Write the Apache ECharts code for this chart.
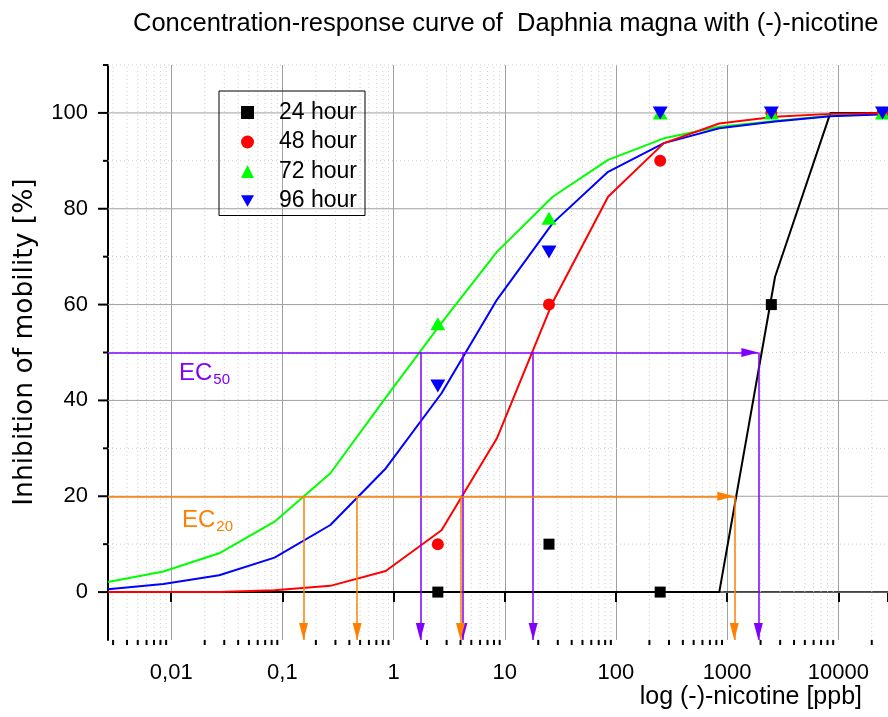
<!DOCTYPE html>
<html>
<head>
<meta charset="utf-8">
<title>Concentration-response curve of Daphnia magna with (-)-nicotine</title>
<script src="https://cdn.jsdelivr.net/npm/echarts@6/dist/echarts.min.js"></script>
<style>
html, body { margin: 0; padding: 0; background: #fff; }
#main { width: 888px; height: 717px; }
</style>
</head>
<body>
<div id="main"></div>
<script>
// fitted curves, sampled every half decade (ppb -> inhibition %)
var fitX  = [0.0027, 0.0085, 0.027, 0.085, 0.27, 0.85, 2.7, 8.5, 27, 85, 270, 850, 2700, 8500, 27000];
var fit24 = [0, 0, 0, 0, 0, 0, 0, 0, 0, 0, 0, 0, 65.8, 100, 100];
var fit48 = [0, 0, 0, 0.4, 1.3, 4.4, 12.9, 32.1, 60.5, 82.5, 93.7, 97.8, 99.2, 99.8, 100];
var fit72 = [2.1, 4.3, 8.1, 14.7, 24.8, 40.6, 56.2, 71.0, 82.5, 90.2, 94.7, 97.1, 98.3, 99.4, 99.8];
var fit96 = [0.6, 1.7, 3.5, 7.2, 14.0, 25.8, 41.5, 61.0, 77.0, 87.7, 93.7, 96.8, 98.2, 99.3, 99.7];

// measured points
var conc  = [2.5, 25, 250, 2500, 25000];
var obs24 = [0, 10, 0, 60, 100];
var obs48 = [10, 60, 90, 100, 100];
var obs72 = [56, 78, 100, 100, 100];
var obs96 = [43, 71, 100, 100, 100];

// EC values (72h, 96h, 48h, 24h)
var ec50 = [1.74, 4.2, 18, 1910];
var ec20 = [0.155, 0.47, 4.0, 1160];

// axes
var X_MIN = 0.0027, X_MAX = 28000, Y_MIN = -10, Y_MAX = 110;
var yMajor = [0, 20, 40, 60, 80, 100];
var yMinor = [10, 30, 50, 70, 90, 110];
var decades = [0.001, 0.01, 0.1, 1, 10, 100, 1000, 10000];
var mantissa = [2, 3, 4, 5, 6, 7, 8, 9];

var xMinor = [];
decades.forEach(function (d) {
    mantissa.forEach(function (m) {
        var v = +(d * m).toPrecision(3);
        if (v > X_MIN && v < X_MAX) xMinor.push(v);
    });
});

var FONT = 'Liberation Sans, Arial, sans-serif';
var PURPLE = '#8000ff', ORANGE = '#ff8000';

function pairs(xs, ys) {
    return xs.map(function (x, i) { return [x, ys[i]]; });
}

// horizontal grid line + tick on the y axis
function hLine(color, dash, tick) {
    return function (params, api) {
        var a = api.coord([X_MIN, api.value(1)]);
        var b = api.coord([X_MAX, api.value(1)]);
        return {
            type: 'group',
            children: [
                { type: 'line', shape: { x1: a[0], y1: a[1], x2: b[0], y2: b[1] },
                  style: { stroke: color, lineWidth: 1, lineDash: dash } },
                { type: 'line', shape: { x1: a[0] - tick, y1: a[1], x2: a[0], y2: a[1] },
                  style: { stroke: '#000', lineWidth: 2 } }
            ]
        };
    };
}

// dotted minor vertical grid line + short tick on the x axis
function vMinor(params, api) {
    var a = api.coord([api.value(0), Y_MIN]);
    var b = api.coord([api.value(0), Y_MAX]);
    return {
        type: 'group',
        children: [
            { type: 'line', shape: { x1: a[0], y1: a[1], x2: b[0], y2: b[1] },
              style: { stroke: '#cfcfcf', lineWidth: 1, lineDash: [1, 3] } },
            { type: 'line', shape: { x1: a[0], y1: a[1], x2: a[0], y2: a[1] + 5 },
              style: { stroke: '#000', lineWidth: 2 } }
        ]
    };
}

function arrowLines(vals, y) {
    var out = [];
    var end = { symbol: 'triangle', symbolSize: [9, 17], symbolOffset: [0, 8.5] };
    out.push([{ coord: [X_MIN, y], symbol: 'none' },
              Object.assign({ coord: [vals[vals.length - 1], y] }, end)]);
    vals.forEach(function (v) {
        out.push([{ coord: [v, y], symbol: 'none' }, Object.assign({ coord: [v, Y_MIN] }, end)]);
    });
    return out;
}

function ecSeries(vals, y, color) {
    return {
        type: 'line', data: [], silent: true, z: 3,
        markLine: {
            silent: true,
            animation: false,
            symbol: ['none', 'triangle'],
            label: { show: false },
            emphasis: { disabled: true },
            lineStyle: { color: color, width: 1.5, type: 'solid' },
            itemStyle: { color: color },
            data: arrowLines(vals, y)
        }
    };
}

function fitLine(ys, color) {
    return {
        type: 'line', data: pairs(fitX, ys), showSymbol: false, symbol: 'none',
        silent: true, z: 2, lineStyle: { color: color, width: 2 }
    };
}

function points(name, ys, symbol, size, color) {
    return {
        name: name, type: 'scatter', data: pairs(conc, ys), z: 4,
        symbol: symbol, symbolSize: size, itemStyle: { color: color, opacity: 1 }
    };
}

function ecLabel(sub, color, left, top) {
    return {
        text: '{a|EC}{b|' + sub + '}', left: left, top: top,
        textStyle: { rich: {
            a: { fontFamily: FONT, fontSize: 24, fontWeight: 'normal', color: color },
            b: { fontFamily: FONT, fontSize: 15, fontWeight: 'normal', color: color, padding: [12, 0, 0, 1] }
        } }
    };
}

var DOWN = 'path://M0,0L10,0L5,8.66Z';

var chart = echarts.init(document.getElementById('main'));
chart.setOption({
    animation: false,
    backgroundColor: '#fff',
    title: [
        { text: 'Concentration-response curve of  Daphnia magna with (-)-nicotine',
          left: 128, top: 6,
          textStyle: { fontFamily: FONT, fontSize: 25.5, fontWeight: 'normal', color: '#000' } },
        ecLabel('50', PURPLE, 174, 355),
        ecLabel('20', ORANGE, 177, 502)
    ],
    graphic: [
        { type: 'text', right: 26, top: 685,
          style: { text: 'log (-)-nicotine [ppb]', font: '25px ' + FONT, fill: '#000' } },
        { type: 'text', x: 25, y: 342, rotation: Math.PI / 2,
          style: { text: 'Inhibition of mobility [%]', font: '26.5px DejaVu Sans', fill: '#000',
                   align: 'center', verticalAlign: 'middle' } }
    ],
    legend: {
        orient: 'vertical', left: 219, top: 91,
        borderColor: '#000', borderWidth: 1, borderRadius: 0,
        padding: [10, 8, 3, 22],
        itemWidth: 13, itemHeight: 13, itemGap: 6.5,
        textStyle: { fontFamily: FONT, fontSize: 23, color: '#000', lineHeight: 22, padding: [0, 0, 0, 20] },
        data: [
            { name: '24 hour', icon: 'rect' },
            { name: '48 hour', icon: 'circle' },
            { name: '72 hour', icon: 'triangle' },
            { name: '96 hour', icon: DOWN }
        ]
    },
    grid: { left: 108, right: 0, top: 65, bottom: 77, containLabel: false, outerBoundsMode: 'none' },
    xAxis: {
        type: 'log', logBase: 10, min: X_MIN, max: X_MAX,
        axisLine: { lineStyle: { color: '#000', width: 2 } },
        axisTick: { length: 10, lineStyle: { color: '#000', width: 2 } },
        splitLine: { show: true, lineStyle: { color: '#a0a0a0', width: 1 } },
        axisLabel: {
            margin: 22, fontFamily: FONT, fontSize: 22, color: '#000',
            formatter: function (v) {
                var l = Math.log10(v);
                if (Math.abs(l - Math.round(l)) > 1e-6) return '';
                return String(+v.toPrecision(4)).replace('.', ',');
            }
        }
    },
    yAxis: {
        type: 'value', min: Y_MIN, max: Y_MAX, interval: 10,
        axisLine: { lineStyle: { color: '#000', width: 2 } },
        axisTick: { show: false },
        splitLine: { show: false },
        axisLabel: {
            margin: 20, fontFamily: FONT, fontSize: 22, color: '#000',
            formatter: function (v) { return (v % 20 === 0 && v >= 0 && v <= 100) ? String(v) : ''; }
        }
    },
    series: [
        { type: 'custom', silent: true, z: 1, renderItem: vMinor,
          data: xMinor.map(function (v) { return [v, 0]; }) },
        { type: 'custom', silent: true, z: 1, renderItem: hLine('#cfcfcf', [1, 3], 5),
          data: yMinor.map(function (v) { return [1, v]; }) },
        { type: 'custom', silent: true, z: 1, renderItem: hLine('#a0a0a0', null, 10),
          data: yMajor.map(function (v) { return [1, v]; }) },
        fitLine(fit24, '#000'),
        fitLine(fit72, '#00ff00'),
        fitLine(fit96, '#0000ff'),
        fitLine(fit48, '#ff0000'),
        ecSeries(ec50, 50, PURPLE),
        ecSeries(ec20, 20, ORANGE),
        points('24 hour', obs24, 'rect', 11, '#000'),
        points('48 hour', obs48, 'circle', 12, '#ff0000'),
        points('72 hour', obs72, 'triangle', [15, 13], '#00ff00'),
        points('96 hour', obs96, DOWN, [15, 13], '#0000ff')
    ]
});
</script>
</body>
</html>
